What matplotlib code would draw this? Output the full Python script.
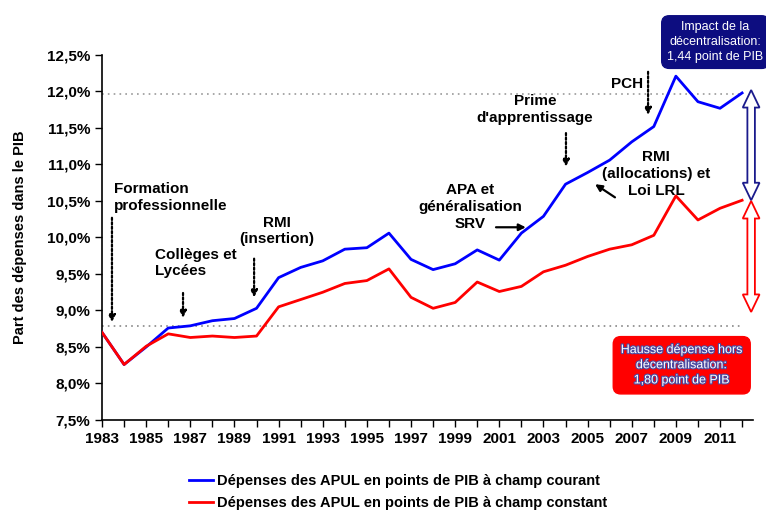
import matplotlib
matplotlib.use("Agg")
import matplotlib.pyplot as plt
from matplotlib.patches import Polygon
import matplotlib.patheffects as pe

plt.rcParams['font.family'] = ['Liberation Sans Narrow', 'Liberation Sans', 'DejaVu Sans']

### data (% of GDP)
years = list(range(1983, 2013))
courant = [8.70, 8.26, 8.50, 8.76, 8.79, 8.86, 8.89, 9.03, 9.45, 9.59,
           9.68, 9.84, 9.86, 10.06, 9.70, 9.56, 9.64, 9.83, 9.69, 10.06,
           10.29, 10.73, 10.89, 11.06, 11.31, 11.52, 12.21, 11.86, 11.77, 11.98]
constant = [8.70, 8.26, 8.51, 8.68, 8.63, 8.65, 8.63, 8.65, 9.05, 9.15,
            9.25, 9.37, 9.41, 9.57, 9.18, 9.03, 9.11, 9.39, 9.26, 9.33,
            9.53, 9.62, 9.74, 9.84, 9.90, 10.03, 10.57, 10.24, 10.40, 10.51]
ref_high = 11.96
ref_low = 8.79

ytick_vals = [7.5, 8.0, 8.5, 9.0, 9.5, 10.0, 10.5, 11.0, 11.5, 12.0, 12.5]
ytick_labels = ['7,5%', '8,0%', '8,5%', '9,0%', '9,5%', '10,0%', '10,5%',
                '11,0%', '11,5%', '12,0%', '12,5%']
xtick_labels = [str(y) for y in range(1983, 2013, 2)]

legend_labels = ['Dépenses des APUL en points de PIB à champ courant',
                 'Dépenses des APUL en points de PIB à champ constant']

fig = plt.figure(figsize=(7.66, 5.13), dpi=100)
ax = fig.add_axes([0.1332, 0.1813, 0.85, 0.7115])

ax.plot(years, courant, color='#0000ff', lw=2.0, label=legend_labels[0], zorder=3)
ax.plot(years, constant, color='#ff0000', lw=2.0, label=legend_labels[1], zorder=3)

# dotted reference lines
ax.plot([1983, 2012], [ref_high, ref_high], color='#999999', lw=1.2,
        ls=(0, (1, 2.5)), zorder=1)
ax.plot([1983, 2012], [ref_low, ref_low], color='#888888', lw=1.2,
        ls=(0, (1, 2.5)), zorder=1)

ax.set_xlim(1983, 2012.5)
ax.set_ylim(7.5, 12.5)
ax.set_yticks(ytick_vals)
ax.set_yticklabels(ytick_labels, fontsize=11, fontweight='bold')
ax.set_xticks(range(1983, 2013, 2))
ax.set_xticklabels(xtick_labels, fontsize=11, fontweight='bold')
ax.set_xticks(range(1984, 2013, 2), minor=True)
ax.tick_params(axis='both', which='both', direction='out', length=5, width=1)
ax.spines['top'].set_visible(False)
ax.spines['right'].set_visible(False)
ax.spines['left'].set_linewidth(1.2)
ax.spines['bottom'].set_linewidth(1.2)
ax.set_ylabel('Part des dépenses dans le PIB', fontsize=10.5, fontweight='bold',
              labelpad=14)

txt = dict(fontsize=11, fontweight='bold', color='black', linespacing=1.25)
dotted = dict(arrowstyle='-|>', color='black', lw=1.6, ls=(0, (1, 1)),
              mutation_scale=10, shrinkA=0, shrinkB=0)
solid = dict(arrowstyle='-|>', color='black', lw=1.6,
             mutation_scale=10, shrinkA=0, shrinkB=0)

ax.text(1983.55, 10.55, 'Formation\nprofessionnelle', ha='left', va='center', **txt)
ax.annotate('', xy=(1983.45, 8.84), xytext=(1983.45, 10.27), arrowprops=dotted)

ax.text(1985.4, 9.65, 'Collèges et\nLycées', ha='left', va='center', **txt)
ax.annotate('', xy=(1986.67, 8.90), xytext=(1986.67, 9.24), arrowprops=dotted)

ax.text(1990.93, 10.09, 'RMI\n(insertion)', ha='center', va='center', **txt)
ax.annotate('', xy=(1989.89, 9.18), xytext=(1989.89, 9.71), arrowprops=dotted)

ax.text(1999.67, 10.42, 'APA et\ngénéralisation\nSRV', ha='center', va='center', **txt)
ax.annotate('', xy=(2002.2, 10.14), xytext=(2000.85, 10.14), arrowprops=solid)

ax.text(2002.62, 11.75, 'Prime\nd\'apprentissage', ha='center', va='center', **txt)
ax.annotate('', xy=(2004.02, 10.97), xytext=(2004.02, 11.43), arrowprops=dotted)

ax.text(2006.79, 12.10, 'PCH', ha='center', va='center', **txt)
ax.annotate('', xy=(2007.74, 11.68), xytext=(2007.74, 12.27), arrowprops=dotted)

ax.text(2008.1, 10.87, 'RMI\n(allocations) et\nLoi LRL', ha='center', va='center', **txt)
ax.annotate('', xy=(2005.34, 10.73), xytext=(2006.24, 10.55), arrowprops=solid)


### hollow double-headed block arrow
def double_arrow(x, y0, y1, color):
    hw, HW, hl = 0.17, 0.38, 0.24
    pts = [(x, y1), (x + HW, y1 - hl), (x + hw, y1 - hl), (x + hw, y0 + hl),
           (x + HW, y0 + hl), (x, y0), (x - HW, y0 + hl), (x - hw, y0 + hl),
           (x - hw, y1 - hl), (x - HW, y1 - hl)]
    ax.add_patch(Polygon(pts, closed=True, fc='white', ec=color, lw=1.3,
                         clip_on=False, zorder=4))


double_arrow(2012.41, 10.51, 12.02, '#1a1a8c')
double_arrow(2012.41, 8.98, 10.50, '#ff0000')

# boxes
fig.text(0.934, 0.918, 'Impact de la\ndécentralisation:\n1,44 point de PIB',
         ha='center', va='center', fontsize=9, color='white', linespacing=1.3,
         family=['Liberation Sans', 'DejaVu Sans'],
         bbox=dict(boxstyle='round,pad=0.45,rounding_size=0.6', fc='#0d0d80',
                   ec='#0d0d80'))
fig.text(0.890, 0.288, 'Hausse dépense hors\ndécentralisation:\n1,80 point de PIB',
         ha='center', va='center', fontsize=9, color='white', linespacing=1.35,
         family=['Liberation Sans', 'DejaVu Sans'],
         path_effects=[pe.withStroke(linewidth=1.6, foreground='#4a4aa0')],
         bbox=dict(boxstyle='round,pad=0.6,rounding_size=0.6', fc='#ff0000',
                   ec='#ff0000'))

leg = fig.legend(loc='upper center', bbox_to_anchor=(0.52, 0.088), frameon=False,
                 prop=dict(size=10.5, weight='bold'), handlelength=1.6,
                 handletextpad=0.3, labelspacing=0.6, borderaxespad=0)

plt.savefig('out.png', dpi=100)
